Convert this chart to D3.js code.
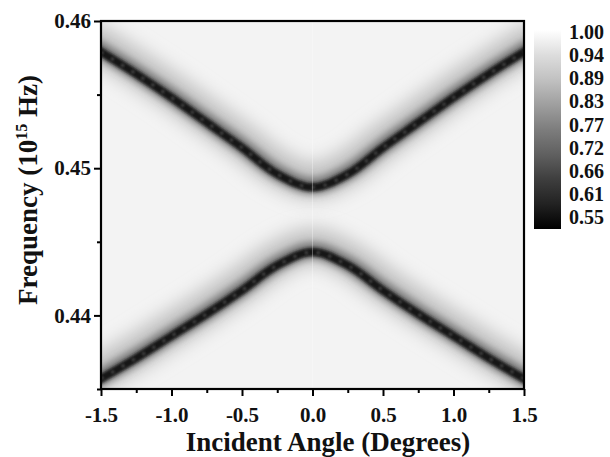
<!DOCTYPE html>
<html><head><meta charset="utf-8">
<script src="https://cdn.jsdelivr.net/npm/d3@7"></script>
<style>
body{margin:0;background:#fff}
text{font-family:"Liberation Serif","Times New Roman",serif;font-weight:bold;fill:#111}
</style>
</head><body>
<svg id="chart" width="610" height="457"></svg>
<script>
// ---- data ----
const angles = [-1.5,-1.25,-1.0,-0.75,-0.5,-0.25,0.0,0.25,0.5,0.75,1.0,1.25,1.5];
const upperBranch = [0.4579,0.4564,0.4548,0.4531,0.4514,0.4496,0.4487,0.4496,0.4514,0.4531,0.4548,0.4564,0.4579];
const lowerBranch = [0.4357,0.4371,0.4386,0.4401,0.4417,0.4434,0.4443,0.4434,0.4417,0.4401,0.4386,0.4371,0.4357];
const xTicks = [-1.5,-1.0,-0.5,0.0,0.5,1.0,1.5];
const xMinorTicks = [-1.25,-0.75,-0.25,0.25,0.75,1.25];
const yTicks = [0.44,0.45,0.46];
const yMinorTicks = [0.435,0.445,0.455];
const colorbarLabels = ["1.00","0.94","0.89","0.83","0.77","0.72","0.66","0.61","0.55"];
const levels = {background:0.978, halo:0.89, mid:0.76, core:0.59, speckle:0.67};

// ---- layout ----
const svg = d3.select("#chart");
const P = {l:101, r:524, t:21, b:389};
const x = d3.scaleLinear().domain([-1.5,1.5]).range([P.l,P.r]);
const y = d3.scaleLinear().domain([0.435,0.46]).range([P.b,P.t]);
const gray = d3.scaleLinear().domain([0.55,1.0]).range(["#000","#fff"]);

const defs = svg.append("defs");
defs.append("clipPath").attr("id","clip").append("rect")
  .attr("x",P.l).attr("y",P.t).attr("width",P.r-P.l).attr("height",P.b-P.t);
function blur(id, sd){
  defs.append("filter").attr("id",id).attr("filterUnits","userSpaceOnUse")
    .attr("x",0).attr("y",0).attr("width",610).attr("height",457)
    .append("feGaussianBlur").attr("stdDeviation",sd);
}
blur("b8",9); blur("b4",3.8); blur("b1",1.7); blur("b05",0.9);

const plot = svg.append("g").attr("clip-path","url(#clip)");
plot.append("rect").attr("x",P.l).attr("y",P.t).attr("width",P.r-P.l).attr("height",P.b-P.t)
  .attr("fill",gray(levels.background));

const line = d3.line().x((d,i)=>x(angles[i])).y(d=>y(d)).curve(d3.curveCatmullRom);
[upperBranch, lowerBranch].forEach(br=>{
  const d = line(br);
  plot.append("path").attr("d",d).attr("fill","none").attr("stroke",gray(levels.halo))
    .attr("stroke-width",36).attr("stroke-linecap","square").attr("transform","translate(0,-6)").attr("filter","url(#b8)");
  plot.append("path").attr("d",d).attr("fill","none").attr("stroke",gray(levels.mid))
    .attr("stroke-width",16).attr("stroke-linecap","square").attr("transform","translate(0,-1.5)").attr("filter","url(#b4)");
  plot.append("path").attr("d",d).attr("fill","none").attr("stroke",gray(levels.core))
    .attr("stroke-width",8.5).attr("stroke-linecap","square").attr("filter","url(#b1)");
  plot.append("path").attr("d",d).attr("fill","none").attr("stroke",gray(levels.speckle))
    .attr("stroke-width",3).attr("stroke-dasharray","3 9").attr("filter","url(#b05)");
});
plot.append("line").attr("x1",x(0)).attr("x2",x(0)).attr("y1",P.t).attr("y2",P.b)
  .attr("stroke","#fff").attr("stroke-opacity",0.3).attr("stroke-width",1);

// ---- axes ----
const fmt = d => d.toFixed(1);
svg.append("g").attr("transform",`translate(0,${P.b})`)
  .call(d3.axisBottom(x).tickValues(xTicks).tickFormat(fmt).tickSize(7).tickPadding(11));
svg.append("g").attr("transform",`translate(0,${P.b})`)
  .call(d3.axisBottom(x).tickValues(xMinorTicks).tickFormat("").tickSize(4));
svg.append("g").attr("transform",`translate(${P.l},0)`)
  .call(d3.axisLeft(y).tickValues(yTicks).tickFormat(d=>d.toFixed(2)).tickSize(7).tickPadding(3));
svg.append("g").attr("transform",`translate(${P.l},0)`)
  .call(d3.axisLeft(y).tickValues(yMinorTicks).tickFormat("").tickSize(4));
svg.selectAll(".domain").remove();
svg.selectAll(".tick line").attr("stroke","#000").attr("stroke-width",2);
svg.selectAll(".tick text").style("font-size","21px").attr("fill","#111");

svg.append("rect").attr("x",P.l).attr("y",P.t).attr("width",P.r-P.l).attr("height",P.b-P.t)
  .attr("fill","none").attr("stroke","#000").attr("stroke-width",2.2);

svg.append("text").attr("x",328).attr("y",451).attr("text-anchor","middle")
  .style("font-size","27px").text("Incident Angle (Degrees)");
const yt = svg.append("text").attr("transform","translate(37,190) rotate(-90)")
  .attr("text-anchor","middle").style("font-size","27px");
yt.append("tspan").text("Frequency (10");
yt.append("tspan").attr("dy",-10).style("font-size","16px").text("15");
yt.append("tspan").attr("dy",10).text(" Hz)");

// ---- colorbar ----
const cb = {x:534, w:27, t:30, b:229};
const grad = defs.append("linearGradient").attr("id","cbg").attr("x1",0).attr("y1",0).attr("x2",0).attr("y2",1);
const cbVals = colorbarLabels.map(Number);
cbVals.forEach((v,i)=>grad.append("stop").attr("offset",i/(cbVals.length-1)).attr("stop-color",gray(v)));
svg.append("rect").attr("x",cb.x).attr("y",cb.t).attr("width",cb.w).attr("height",cb.b-cb.t).attr("fill","url(#cbg)");
const cy = d3.scalePoint().domain(colorbarLabels).range([32,217]);
svg.selectAll(".cbl").data(colorbarLabels).enter().append("text")
  .attr("x",569).attr("y",d=>cy(d)).attr("dy","0.35em").style("font-size","20px").text(d=>d);
</script>
</body></html>
